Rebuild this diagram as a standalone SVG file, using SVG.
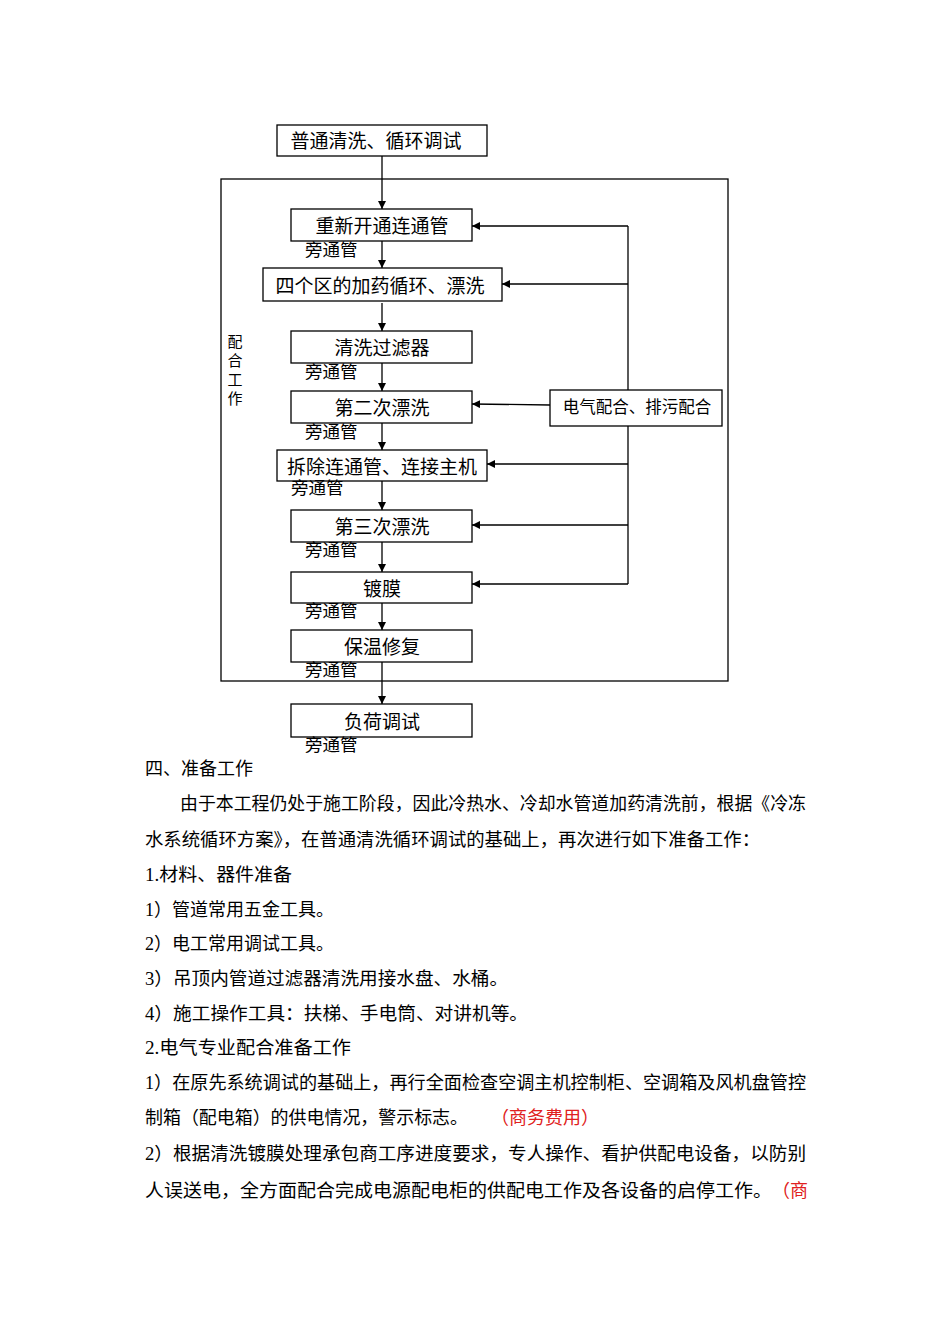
<svg xmlns="http://www.w3.org/2000/svg" width="950" height="1344" viewBox="0 0 950 1344">
<style>
.b{fill:#fff;stroke:#000;stroke-width:1.3}
.t{font-family:"Liberation Serif","Noto Sans CJK SC",serif;font-size:19px;fill:#000}
.s{font-family:"Liberation Serif","Noto Sans CJK SC",serif;font-size:17.5px;fill:#000}
.c{text-anchor:middle}
.p{font-family:"Liberation Serif","Noto Sans CJK SC",serif;font-size:18px;fill:#000}
.r{fill:#e02020}
.l{stroke:#000;stroke-width:1.3;fill:none}
</style>
<defs>
<marker id="a" viewBox="0 0 10 10" refX="10" refY="5" markerWidth="8" markerHeight="8" markerUnits="userSpaceOnUse" orient="auto"><path d="M0,0L10,5L0,10z" fill="#000"/></marker>
</defs>
<rect x="0" y="0" width="950" height="1344" fill="#fff"/>
<g id="frame"><rect x="221" y="179" width="507" height="502" class="l"/>
<text class="s c" x="235" y="347" style="font-size:15px">配</text>
<text class="s c" x="235" y="366" style="font-size:15px">合</text>
<text class="s c" x="235" y="385" style="font-size:15px">工</text>
<text class="s c" x="235" y="404" style="font-size:15px">作</text>
</g>
<g id="connectors">
<line class="l" x1="382" y1="156" x2="382" y2="209" marker-end="url(#a)"/>
<line class="l" x1="382" y1="241" x2="382" y2="268" marker-end="url(#a)"/>
<line class="l" x1="382" y1="303" x2="382" y2="331" marker-end="url(#a)"/>
<line class="l" x1="382" y1="363" x2="382" y2="391" marker-end="url(#a)"/>
<line class="l" x1="382" y1="423" x2="382" y2="450" marker-end="url(#a)"/>
<line class="l" x1="382" y1="481" x2="382" y2="510" marker-end="url(#a)"/>
<line class="l" x1="382" y1="542" x2="382" y2="572" marker-end="url(#a)"/>
<line class="l" x1="382" y1="603" x2="382" y2="630" marker-end="url(#a)"/>
<line class="l" x1="382" y1="662" x2="382" y2="704" marker-end="url(#a)"/>
<line class="l" x1="628" y1="226" x2="628" y2="390"/>
<line class="l" x1="628" y1="426" x2="628" y2="584"/>
<line class="l" x1="628" y1="226" x2="472" y2="226" marker-end="url(#a)"/>
<line class="l" x1="628" y1="284" x2="502" y2="284" marker-end="url(#a)"/>
<line class="l" x1="550" y1="405" x2="472" y2="404" marker-end="url(#a)"/>
<line class="l" x1="628" y1="464" x2="487" y2="464" marker-end="url(#a)"/>
<line class="l" x1="628" y1="525" x2="472" y2="525" marker-end="url(#a)"/>
<line class="l" x1="628" y1="584" x2="472" y2="584" marker-end="url(#a)"/>
</g>
<g id="n0"><rect class="b" x="277" y="125" width="210" height="31"/><text class="t c" x="376" y="148">普通清洗、循环调试</text></g>
<g id="n1"><rect class="b" x="291" y="209" width="181" height="32"/><text class="t c" x="382" y="233">重新开通连通管</text><text class="s" x="305" y="256">旁通管</text></g>
<g id="n2"><rect class="b" x="263" y="268" width="239" height="33"/><text class="t c" x="380" y="293">四个区的加药循环、漂洗</text></g>
<g id="n3"><rect class="b" x="291" y="331" width="181" height="32"/><text class="t c" x="382" y="355">清洗过滤器</text><text class="s" x="305" y="378">旁通管</text></g>
<g id="n4"><rect class="b" x="291" y="391" width="181" height="32"/><text class="t c" x="382" y="415">第二次漂洗</text><text class="s" x="305" y="438">旁通管</text></g>
<g id="n5"><rect class="b" x="277" y="450" width="210" height="31"/><text class="t c" x="382" y="474">拆除连通管、连接主机</text><text class="s" x="291" y="494">旁通管</text></g>
<g id="n6"><rect class="b" x="291" y="510" width="181" height="32"/><text class="t c" x="382" y="534">第三次漂洗</text><text class="s" x="305" y="556">旁通管</text></g>
<g id="n7"><rect class="b" x="291" y="572" width="181" height="31"/><text class="t c" x="382" y="596">镀膜</text><text class="s" x="305" y="617">旁通管</text></g>
<g id="n8"><rect class="b" x="291" y="630" width="181" height="32"/><text class="t c" x="382" y="654">保温修复</text><text class="s" x="305" y="676">旁通管</text></g>
<g id="n9"><rect class="b" x="291" y="704" width="181" height="33"/><text class="t c" x="382" y="729">负荷调试</text><text class="s" x="305" y="751">旁通管</text></g>
<g id="ne"><rect class="b" x="550" y="390" width="172" height="36"/><text class="t c" x="637" y="413" style="font-size:16.5px">电气配合、排污配合</text></g>
<g id="body">
<text class="p" x="145" y="775">四、准备工作</text>
<text class="p" x="180" y="810" textLength="626" lengthAdjust="spacingAndGlyphs">由于本工程仍处于施工阶段，因此冷热水、冷却水管道加药清洗前，根据《冷冻</text>
<text class="p" x="145" y="846" textLength="615" lengthAdjust="spacingAndGlyphs">水系统循环方案》，在普通清洗循环调试的基础上，再次进行如下准备工作：</text>
<text class="p" x="145" y="881" textLength="147" lengthAdjust="spacingAndGlyphs">1.材料、器件准备</text>
<text class="p" x="145" y="916">1）管道常用五金工具。</text>
<text class="p" x="145" y="950">2）电工常用调试工具。</text>
<text class="p" x="145" y="985" textLength="363" lengthAdjust="spacingAndGlyphs">3）吊顶内管道过滤器清洗用接水盘、水桶。</text>
<text class="p" x="145" y="1020" textLength="383" lengthAdjust="spacingAndGlyphs">4）施工操作工具：扶梯、手电筒、对讲机等。</text>
<text class="p" x="145" y="1054" textLength="206" lengthAdjust="spacingAndGlyphs">2.电气专业配合准备工作</text>
<text class="p" x="145" y="1089" textLength="661" lengthAdjust="spacingAndGlyphs">1）在原先系统调试的基础上，再行全面检查空调主机控制柜、空调箱及风机盘管控</text>
<text class="p" x="145" y="1124" textLength="323" lengthAdjust="spacingAndGlyphs">制箱（配电箱）的供电情况，警示标志。</text>
<text class="p r" x="491" y="1124">（商务费用）</text>
<text class="p" x="145" y="1160" textLength="661" lengthAdjust="spacingAndGlyphs">2）根据清洗镀膜处理承包商工序进度要求，专人操作、看护供配电设备，以防别</text>
<text class="p" x="145" y="1197" textLength="627" lengthAdjust="spacingAndGlyphs">人误送电，全方面配合完成电源配电柜的供配电工作及各设备的启停工作。</text>
<text class="p r" x="772" y="1197">（商</text>
</g>
</svg>
